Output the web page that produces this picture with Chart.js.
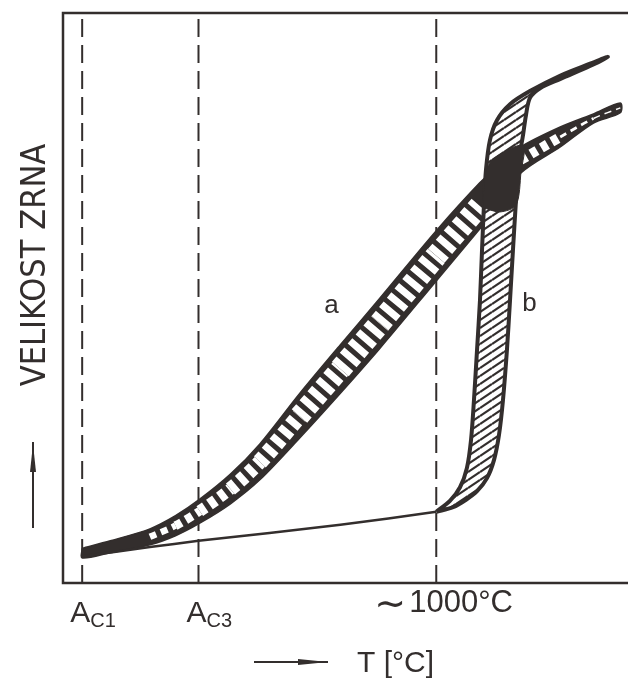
<!DOCTYPE html>
<html>
<head>
<meta charset="utf-8">
<title>Velikost zrna</title>
<script src="https://cdn.jsdelivr.net/npm/chart.js@4.4.1/dist/chart.umd.min.js"></script>
<style>
  html, body { margin: 0; padding: 0; background: #fff; }
  canvas { display: block; }
</style>
</head>
<body>
<canvas id="grainChart" width="628" height="687"></canvas>
<script>
// axis ranges: temperature (°C) and grain size (relative units)
const tempMin = 708, tempMax = 1150;
const sizeMin = 0, sizeMax = 100;

// critical temperatures shown as dashed lines
const critTemps = [723, 814, 1000];
const critLabels = [['A', 'C1'], ['A', 'C3'], ['\u223C', '1000°C']];

// curve a - upper and lower edge of the band
const aTemp  = [723, 745, 776, 796, 815, 839, 862, 893, 925, 956, 1000, 1034, 1050, 1066, 1097, 1123, 1144];
const aUpper = [6.1, 7.4, 9.5, 11.8, 14.7, 19.1, 24.4, 33.2, 41.8, 50.0, 61.8, 70.2, 73.5, 76.5, 80.0, 82.3, 84.2];
const aLower = [4.4, 5.3, 6.7, 8.3, 10.5, 13.9, 18.1, 25.4, 33.3, 41.2, 53.0, 62.1, 66.5, 71.9, 76.5, 80.7, 82.5];

// curve b - slow growth up to ~1000 °C
const bLineTemp = [723, 776, 814, 925, 1000];
const bLineSize = [4.7, 6.3, 7.4, 10.2, 12.5];

// curve b - band above ~1000 °C: outer edge going up, inner edge coming back
const bOuterTemp = [1000, 1010.7, 1018.6, 1024.0, 1027.2, 1029.5, 1031.9, 1034.2, 1035.8, 1037.3, 1038.9, 1042.0, 1047.5, 1057.7, 1073.3, 1096.8, 1120.3, 1134.3];
const bOuterSize = [12.5, 14.4, 16.8, 20.2, 25.1, 32.1, 40.9, 49.6, 58.4, 66.3, 72.5, 77.7, 81.2, 84.0, 86.3, 89.0, 91.1, 92.3];
const bInnerTemp = [1120.3, 1096.8, 1081.2, 1073.3, 1070.2, 1067.9, 1064.7, 1062.4, 1060.0, 1057.7, 1055.3, 1052.2, 1049.1, 1045.2, 1039.7, 1031.9, 1023.3, 1013.1, 1000];
const bInnerSize = [90.7, 88.4, 86.8, 85.1, 82.1, 78.6, 74.2, 67.2, 58.4, 49.6, 40.9, 32.1, 26.0, 21.6, 18.4, 16.1, 14.6, 13.3, 12.5];

// where the two bands cross
const crossTemp = [1037.3, 1038.1, 1043.6, 1067.9, 1066.3, 1062.4, 1049.9, 1037.3];
const crossSize = [65.8, 71.1, 74.2, 76.8, 72.1, 66.3, 65.1, 65.8];

// curve labels
const curveNames = ['a', 'b'];
const curveNameTemp = [918, 1073];
const curveNameSize = [48.8, 49.1];

const ink = '#332e2d';

function hatchPattern() {
  const c = document.createElement('canvas');
  c.width = 12; c.height = 8;
  const g = c.getContext('2d');
  g.fillStyle = '#fff';
  g.fillRect(0, 0, 12, 8);
  g.strokeStyle = ink;
  g.lineWidth = 2.2;
  for (let k = -1; k <= 1; k++) {
    g.beginPath();
    g.moveTo(0, 8 + k * 8);
    g.lineTo(12, k * 8);
    g.stroke();
  }
  return g.createPattern(c, 'repeat');
}

const toPts = (xs, ys) => xs.map((t, i) => ({x: t, y: ys[i]}));

// band a as closed outline
const bandA = toPts(aTemp, aUpper).concat(toPts(aTemp, aLower).reverse());
bandA.push(bandA[0]);
// white rungs along the middle of band a (solid near A_C1 and at the crossing)
const rungs = aTemp.map((t, i) => ({x: t, y: (i < 2 || i === 12) ? null : (aUpper[i] + aLower[i]) / 2}));
// band b outline
const bandB = toPts(bOuterTemp, bOuterSize).concat(toPts(bInnerTemp, bInnerSize));

const dashed = critTemps.map(t => ({
  data: [{x: t, y: sizeMin}, {x: t, y: sizeMax}],
  borderColor: ink, borderWidth: 2, borderDash: [18, 8], tension: 0, fill: false, order: 9
}));

const frame = {
  id: 'frame',
  beforeDatasetsDraw(chart) {
    const {ctx, chartArea: a} = chart;
    ctx.save();
    ctx.strokeStyle = ink;
    ctx.lineWidth = 2.5;
    ctx.beginPath();
    ctx.moveTo(a.right, a.top);
    ctx.lineTo(a.left, a.top);
    ctx.lineTo(a.left, a.bottom);
    ctx.lineTo(a.right, a.bottom);
    ctx.stroke();
    ctx.restore();
  }
};

const texts = {
  id: 'texts',
  afterDraw(chart) {
    const {ctx, chartArea: a, scales: {x, y}} = chart;
    ctx.save();
    ctx.fillStyle = ink;
    ctx.strokeStyle = ink;
    ctx.textBaseline = 'alphabetic';
    ctx.textAlign = 'left';
    // A_C1, A_C3
    for (let i = 0; i < 2; i++) {
      const px = x.getPixelForValue(critTemps[i]) - 12;
      ctx.font = '30px "Liberation Sans"';
      ctx.fillText(critLabels[i][0], px, a.bottom + 39);
      const w = ctx.measureText(critLabels[i][0]).width;
      ctx.font = '20px "Liberation Sans"';
      ctx.fillText(critLabels[i][1], px + w, a.bottom + 44);
    }
    // ~1000 °C
    const px = x.getPixelForValue(critTemps[2]) - 62;
    ctx.font = '38px "DejaVu Sans"';
    ctx.fillText(critLabels[2][0], px, a.bottom + 33);
    ctx.font = '31px "Liberation Sans"';
    ctx.fillText(critLabels[2][1], px + 35, a.bottom + 29);

    // x axis title with arrow
    ctx.font = '30px "Liberation Sans"';
    ctx.fillText('T [°C]', 357, 672);
    ctx.lineWidth = 2;
    ctx.beginPath(); ctx.moveTo(254, 662); ctx.lineTo(328, 662); ctx.stroke();
    ctx.beginPath(); ctx.moveTo(298, 659); ctx.lineTo(328, 662); ctx.lineTo(298, 665); ctx.closePath(); ctx.fill();

    // y axis title with arrow
    ctx.save();
    ctx.translate(45, 265);
    ctx.rotate(-Math.PI / 2);
    ctx.textAlign = 'center';
    ctx.font = '34px "Liberation Sans Narrow", "DejaVu Sans Condensed"';
    ctx.fillText('VELIKOST ZRNA', 0, 0);
    ctx.restore();
    ctx.beginPath(); ctx.moveTo(33, 528); ctx.lineTo(33, 442); ctx.stroke();
    ctx.beginPath(); ctx.moveTo(30, 472); ctx.lineTo(33, 444); ctx.lineTo(36, 472); ctx.closePath(); ctx.fill();

    // curve names
    ctx.textAlign = 'center';
    ctx.font = '26px "Liberation Sans"';
    curveNames.forEach((n, i) => {
      ctx.fillText(n, x.getPixelForValue(curveNameTemp[i]), y.getPixelForValue(curveNameSize[i]) + 8);
    });
    ctx.restore();
  }
};

const chart = new Chart(document.getElementById('grainChart'), {
  type: 'line',
  data: {
    datasets: [
      ...dashed,
      {
        data: bandA, borderColor: ink, backgroundColor: ink, borderWidth: 1.5,
        fill: 'shape', tension: 0.3, order: 8
      },
      {
        data: rungs, borderColor: '#fff', borderWidth: 10, borderDash: [7, 5], borderCapStyle: 'butt',
        fill: false, tension: 0.3, order: 7,
        segment: {
          borderWidth: c => {
            const ys = c.chart.scales.y;
            const i = c.p0DataIndex, j = c.p1DataIndex;
            const th = (ys.getPixelForValue(aLower[i]) - ys.getPixelForValue(aUpper[i]) +
                        ys.getPixelForValue(aLower[j]) - ys.getPixelForValue(aUpper[j])) / 2;
            const dx = c.p1.x - c.p0.x, dy = c.p1.y - c.p0.y;
            return Math.max(1.5, th * Math.abs(dx) / Math.hypot(dx, dy) - 10);
          }
        }
      },
      {
        data: bandB, borderColor: ink, backgroundColor: hatchPattern(), borderWidth: 4,
        fill: 'shape', tension: 0.3, order: 6
      },
      {
        data: toPts(bLineTemp, bLineSize), borderColor: ink, borderWidth: 2.5,
        fill: false, tension: 0.2, order: 5
      },
      {
        data: toPts(crossTemp, crossSize), borderColor: ink, backgroundColor: ink, borderWidth: 1,
        fill: 'shape', tension: 0.3, order: 4
      }
    ]
  },
  options: {
    responsive: false,
    animation: false,
    events: [],
    devicePixelRatio: 1,
    layout: {padding: {left: 63, top: 13, right: 0, bottom: 104}},
    elements: {point: {radius: 0}},
    plugins: {legend: {display: false}, tooltip: {enabled: false}},
    scales: {
      x: {type: 'linear', min: tempMin, max: tempMax, display: false},
      y: {type: 'linear', min: sizeMin, max: sizeMax, display: false}
    }
  },
  plugins: [frame, texts]
});
</script>
</body>
</html>
